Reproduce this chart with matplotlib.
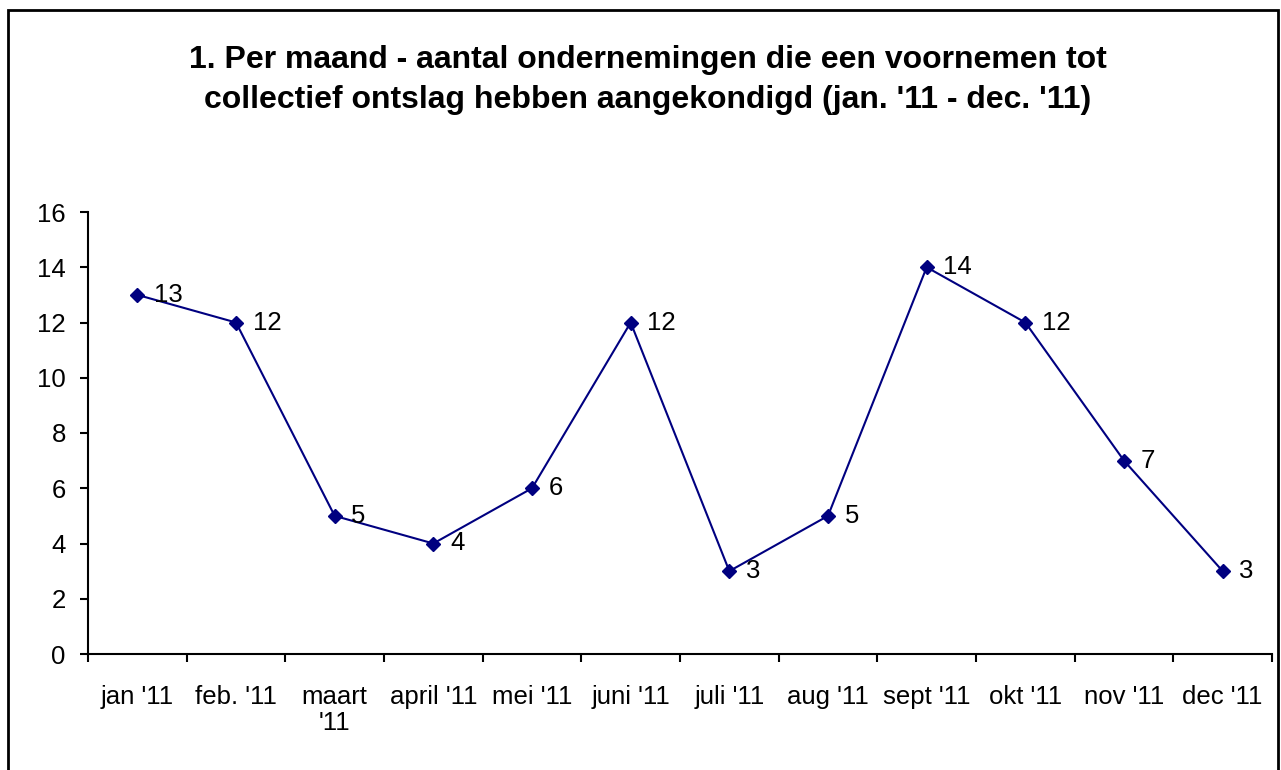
import matplotlib.pyplot as plt
from matplotlib.patches import Rectangle
import numpy as np

plt.rcParams['font.family'] = ['Liberation Sans', 'DejaVu Sans']

months = ["jan '11", "feb. '11", "maart\n'11", "april '11", "mei '11", "juni '11",
          "juli '11", "aug '11", "sept '11", "okt '11", "nov '11", "dec '11"]
counts = [13, 12, 5, 4, 6, 12, 3, 5, 14, 12, 7, 3]
yticks = [0, 2, 4, 6, 8, 10, 12, 14, 16]
title = ("1. Per maand - aantal ondernemingen die een voornemen tot\n"
         "collectief ontslag hebben aangekondigd (jan. '11 - dec. '11)")

fig = plt.figure(figsize=(12.81, 7.70), dpi=100)
fig.patches.append(Rectangle((8 / 1281, -0.05), (1278 - 8) / 1281, 1 - 10 / 770 + 0.05,
                             transform=fig.transFigure, fill=False,
                             edgecolor='black', linewidth=2))

ax = fig.add_axes([88 / 1281, 1 - 654 / 770, (1272 - 88) / 1281, (654 - 212) / 770])

x = np.arange(len(months)) + 0.5
ax.plot(x, counts, color='#000080', linewidth=1.5, marker='D', markersize=7.5,
        markerfacecolor='#000080', markeredgecolor='#000080')
for xi, v in zip(x, counts):
    ax.annotate(str(v), (xi, v), xytext=(12, 0), textcoords='offset points',
                va='center', ha='left', fontsize=18.5, color='black')

ax.set_xlim(0, len(months))
ax.set_ylim(0, 16)
ax.set_yticks(yticks)
ax.set_xticks(np.arange(len(months) + 1))
ax.set_xticklabels([])
ax.set_xticks(x, minor=True)
ax.set_xticklabels(months, minor=True, fontsize=18.5, linespacing=1.15)
ax.tick_params(axis='x', which='minor', length=0, pad=22)
ax.tick_params(axis='x', which='major', length=6, width=1.5, direction='out')
ax.tick_params(axis='y', length=6, width=1.5, direction='out', labelsize=18.5, pad=10)

for s in ['top', 'right']:
    ax.spines[s].set_visible(False)
for s in ['left', 'bottom']:
    ax.spines[s].set_linewidth(1.5)

fig.text(648 / 1281, 1 - 80 / 770, title, ha='center', va='center',
         fontsize=23, fontweight='bold', linespacing=1.45)

fig.savefig('out.png', dpi=100)
